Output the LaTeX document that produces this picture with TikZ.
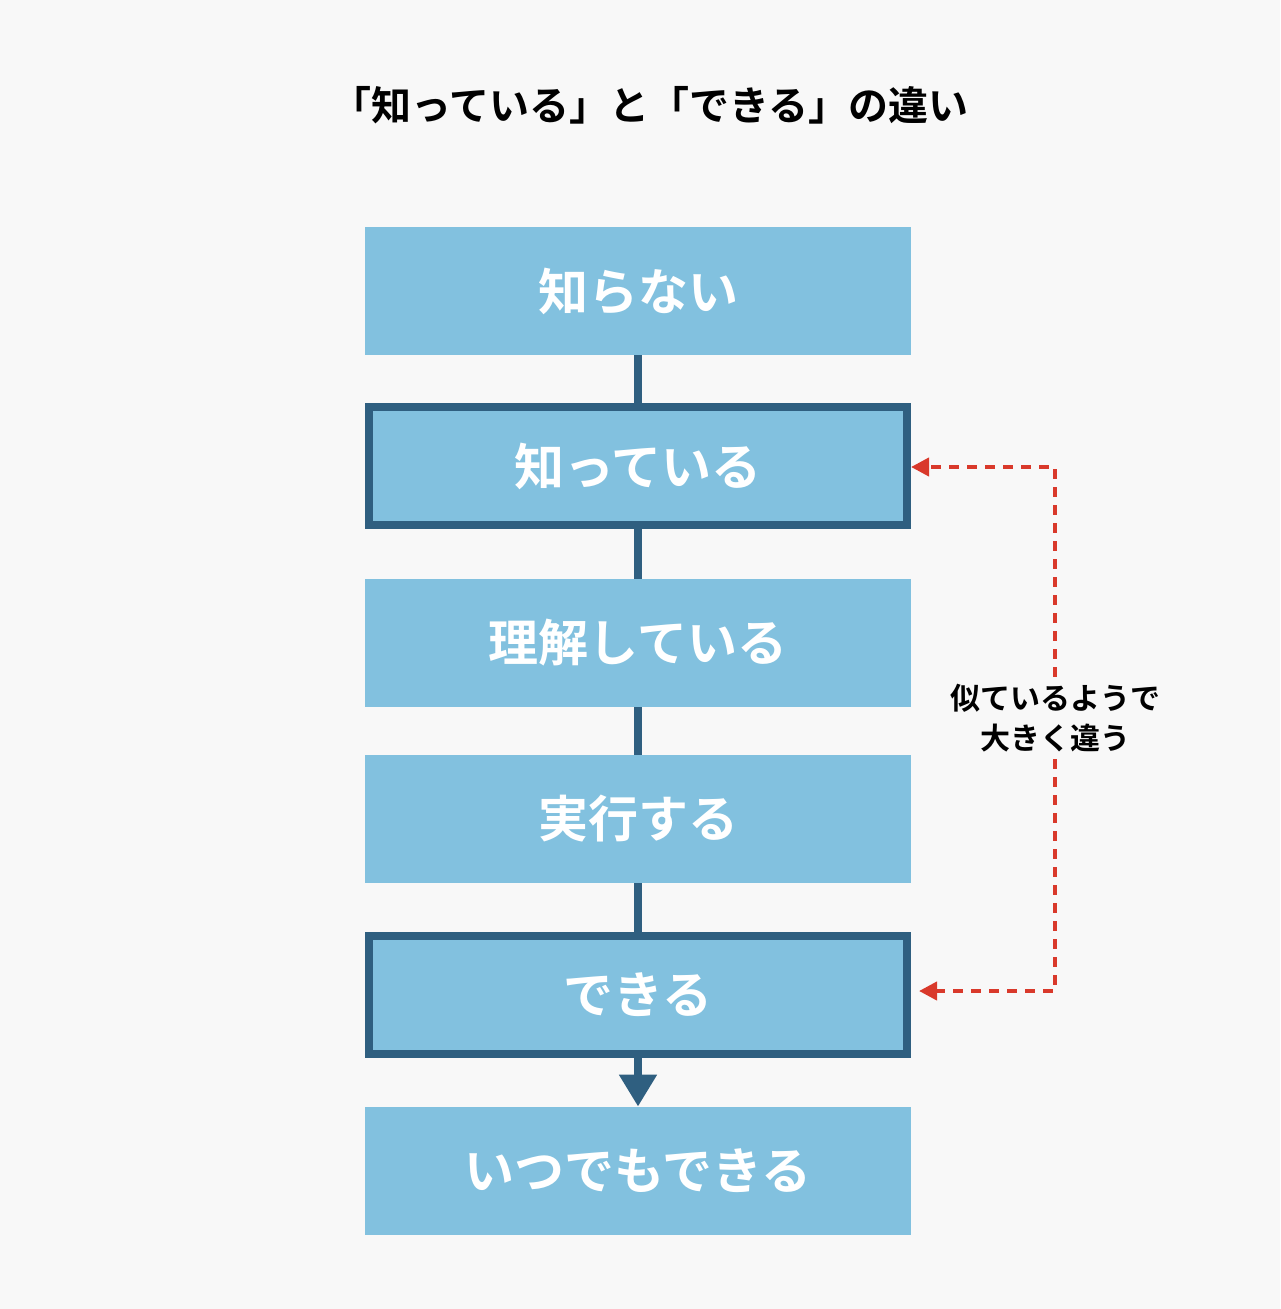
\documentclass[tikz,border=0pt]{standalone}
\usepackage{fontspec}
\newfontfamily\jpfont{Noto Sans CJK JP}[BoldFont={* Bold}]
\usetikzlibrary{arrows.meta,positioning}
\definecolor{boxfill}{HTML}{82C1DF}
\definecolor{boxline}{HTML}{2F5F80}
\definecolor{bgcol}{HTML}{F8F8F8}
\definecolor{redline}{HTML}{D9392B}
\tikzset{
    step box/.style = {
        shape = rectangle,
        fill  = boxfill,
        text  = white,
        font  = \jpfont\bfseries\fontsize{25}{30}\selectfont,
        minimum width=273pt,
        minimum height=64pt,
        inner sep=0pt
    },
    key box/.style = {
        step box,
        draw = boxline,
        line width=4pt,
        minimum width=269pt,
        minimum height=59pt
    },
    link/.style = {draw=boxline, line width=4pt},
    gap/.style = {draw=redline, line width=2pt, dash pattern=on 5pt off 4pt, -{Triangle[length=9pt,width=9pt]}}
}
\begin{document}
\begin{tikzpicture}[x=0.5pt, y=-0.5pt]
      \fill[bgcol] (0,0) rectangle (1280,1309);
      \node (title) at (650,105) [font=\jpfont\bfseries\fontsize{20}{24}\selectfont] {「知っている」と「できる」の違い};

      \node (s1) at (638,291) [step box] {知らない};
      \node (s2) at (638,466) [key box] {知っている};
      \node (s3) at (638,643) [step box] {理解している};
      \node (s4) at (638,819) [step box] {実行する};
      \node (s5) at (638,995) [key box] {できる};
      \node (s6) at (638,1171) [step box] {いつでもできる};

      \draw[link] (s1) -- (s2);
      \draw[link] (s2) -- (s3);
      \draw[link] (s3) -- (s4);
      \draw[link] (s4) -- (s5);
      \draw[link, -{Triangle[length=16pt,width=18pt]}] (s5) -- (s6);

      \node (note) at (1055,718) [align=center, font=\jpfont\bfseries\fontsize{15}{20}\selectfont] {似ているようで\\大きく違う};
      \coordinate (top) at (1055,467);
      \coordinate (bot) at (1055,991);
      \draw[gap] (note.north -| top) -- (top) -- (s2.east |- top);
      \draw[gap] (note.south -| bot) -- (bot) -- ([xshift=4pt]s5.east |- bot);
\end{tikzpicture}
\end{document}
